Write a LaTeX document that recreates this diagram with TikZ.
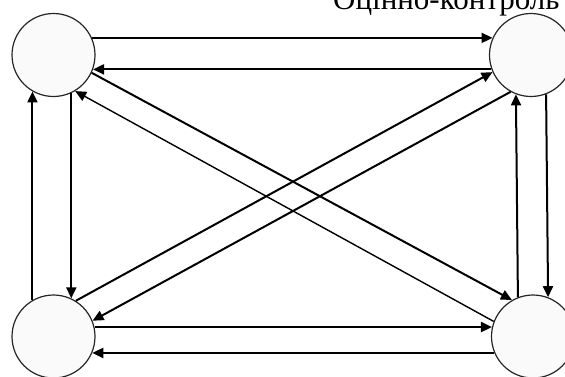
\documentclass[tikz,border=0pt]{standalone}
\usepackage{fontspec}
\setmainfont{Liberation Serif}
\usetikzlibrary{arrows.meta}
\begin{document}
\begin{tikzpicture}[x=1pt,y=-1pt,
  state/.style={circle,draw=black!85,line width=1.2pt,fill=gray!4,minimum size=83pt,inner sep=0pt},
  conn/.style={line width=2pt,-{Triangle[length=11pt,width=10pt]}},
  thinconn/.style={line width=1.4pt,-{Triangle[length=11pt,width=10pt]}}]
\useasboundingbox (0,0) rectangle (565,376);
\clip (0,0) rectangle (565,376);
\node[state] (tl) at (53.5,55) {};
\node[state] (tr) at (531,55) {};
\node[state] (bl) at (53.5,336.5) {};
\node[state] (br) at (533,336.5) {};
\node[anchor=base west,inner sep=0pt,font=\fontsize{31}{31}\selectfont] (title) at (333,9.5) {Оцінно-контроль};
% top horizontals
\draw[conn] (tl.24) -- (tr.156);
\draw[conn] (tr.200) -- (tl.-20);
% bottom horizontals
\draw[conn] (bl.13) -- (br.167);
\draw[conn] (br.203) -- (bl.-23);
% left verticals
\draw[conn] (bl.120) -- (tl.240);
\draw[conn] (tl.295) -- (bl.65);
% right verticals
\draw[conn] (br.111) -- (tr.249);
\draw[conn] (tr.291) -- (br.69);
% diagonals
\draw[conn] (tl.-25.7) -- (br.120);
\draw[thinconn] (br.159) -- (tl.-59.7);
\draw[conn] (bl.58.8) -- (tr.204.4);
\draw[conn] (tr.241) -- (bl.22.7);
\end{tikzpicture}
\end{document}
